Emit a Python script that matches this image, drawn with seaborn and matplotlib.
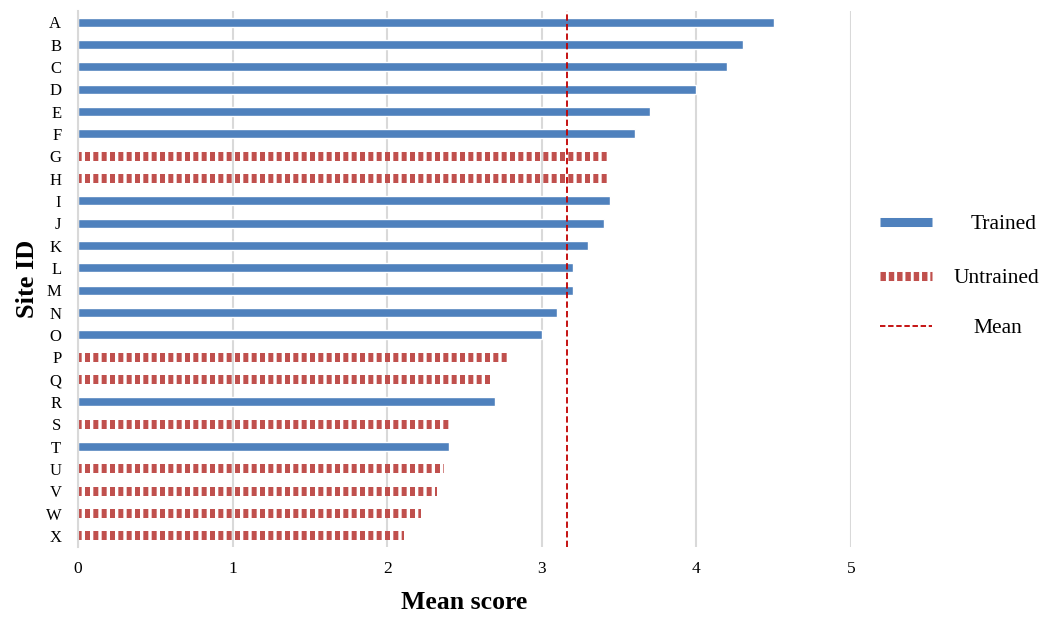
import matplotlib
matplotlib.use("Agg")
import matplotlib.pyplot as plt
from matplotlib.lines import Line2D
import pandas as pd
import seaborn as sns

sites = list("ABCDEFGHIJKLMNOPQRSTUVWX")
scores = [4.50, 4.30, 4.20, 4.00, 3.70, 3.60, 3.44, 3.44, 3.44, 3.40, 3.30, 3.20,
          3.20, 3.10, 3.00, 2.78, 2.68, 2.70, 2.40, 2.40, 2.37, 2.32, 2.22, 2.11]
status = ["Trained"] * 6 + ["Untrained"] * 2 + ["Trained"] * 7 + ["Untrained"] * 2 + \
         ["Trained", "Untrained", "Trained"] + ["Untrained"] * 4
mean_score = 3.16
x_ticks = [0, 1, 2, 3, 4, 5]

BLUE = "#4F81BD"
RED = "#C0504D"
MEAN_RED = "#C00000"
GRID = "#D9D9D9"

df = pd.DataFrame({"site": sites, "score": scores, "status": status})

sns.set_theme(style="white")
plt.rcParams["font.family"] = ["Liberation Serif", "DejaVu Serif"]
plt.rcParams["hatch.linewidth"] = 3.6
plt.rcParams["text.color"] = "black"
plt.rcParams["axes.labelcolor"] = "black"
plt.rcParams["xtick.color"] = "black"
plt.rcParams["ytick.color"] = "black"

fig = plt.figure(figsize=(10.44, 6.19), dpi=100)
ax = fig.add_axes([78 / 1044, 1 - 547 / 619, (851 - 78) / 1044, (547 - 11) / 619])

sns.barplot(data=df, y="site", x="score", hue="status", order=sites,
            hue_order=["Trained", "Untrained"], palette={"Trained": BLUE, "Untrained": RED},
            dodge=False, width=0.4, orient="h", legend=False, ax=ax,
            saturation=1, errorbar=None)

# Untrained bars are drawn as a striped (dotted) bar
for cont, lab in zip(ax.containers, ["Trained", "Untrained"]):
    if lab == "Untrained":
        for p in cont:
            p.set_facecolor("none")
            p.set_edgecolor(RED)
            p.set_linewidth(0)
            p.set_hatch("||")

ax.axvline(mean_score, color=MEAN_RED, lw=1.3, ls=(0, (3.5, 1.8)), zorder=3)

ax.set_xlim(0, 5)
ax.set_xticks(x_ticks)
ax.set_xticklabels([str(t) for t in x_ticks], fontsize=12.5)
ax.grid(axis="x", color=GRID, lw=1.5)
ax.set_axisbelow(True)
for s in ["top", "right", "bottom"]:
    ax.spines[s].set_visible(False)
ax.spines["left"].set_color(GRID)
ax.spines["left"].set_linewidth(1.5)
ax.tick_params(axis="both", length=0)
ax.tick_params(axis="y", labelsize=12, pad=12)
ax.tick_params(axis="x", pad=10)
ax.set_xlabel("Mean score", fontsize=18.5, fontweight="bold", labelpad=10)
ax.set_ylabel("Site ID", fontsize=19, fontweight="bold", labelpad=5)

# Legend: one entry per box so each label sits centred in the key column
legend_entries = [
    (Line2D([], [], color=BLUE, lw=6.5, solid_capstyle="butt"), "Trained", 224, 1.77),
    (Line2D([], [], color=RED, lw=6.5, ls=(0, (0.6, 0.32)), dash_capstyle="butt"),
     "Untrained", 278, 0.98),
    (Line2D([], [], color=MEAN_RED, lw=1.3, ls=(0, (3.0, 1.5))), "Mean", 328, 1.9),
]
for handle, label, ypix, textpad in legend_entries:
    fig.legend([handle], [label], loc="center left",
               bbox_to_anchor=(865 / 1044, 1 - ypix / 619), frameon=False, fontsize=15.5,
               handlelength=2.42, handletextpad=textpad, borderpad=0.3, borderaxespad=0.4)

fig.savefig("out.png", dpi=100)
